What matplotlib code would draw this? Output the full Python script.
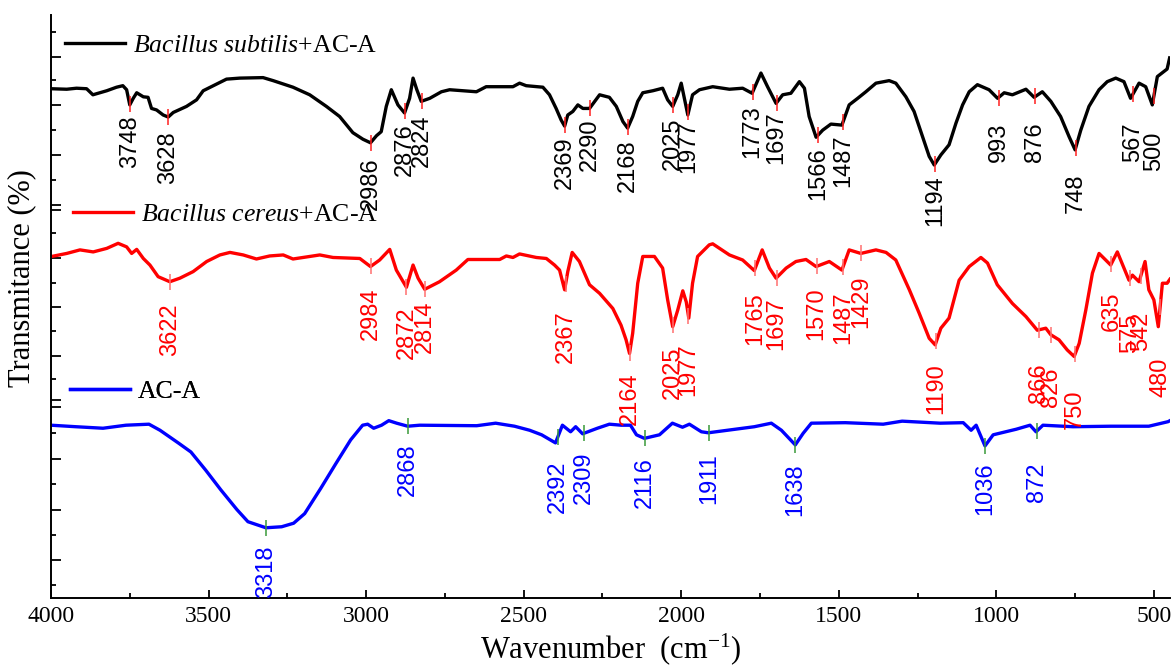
import numpy as np
import matplotlib
matplotlib.use("Agg")
import matplotlib.pyplot as plt
from matplotlib.ticker import MultipleLocator, FixedLocator

plt.rcParams['font.family'] = ['Liberation Serif', 'DejaVu Serif']
plt.rcParams['mathtext.fontset'] = 'custom'
plt.rcParams['mathtext.rm'] = 'Liberation Serif'
plt.rcParams['mathtext.it'] = 'Liberation Serif:italic'

# --- spectra (wavenumber cm-1, transmittance offset units) ---
black_wn = [4000, 3950, 3919, 3887, 3867, 3845, 3823, 3792, 3772, 3760, 3750, 3739, 3728,
            3707, 3692, 3681, 3665, 3644, 3628, 3612, 3570, 3538, 3517, 3485, 3443, 3401,
            3327, 3295, 3232, 3179, 3126, 3084, 3042, 3010, 2986, 2967, 2952, 2936, 2920,
            2899, 2878, 2862, 2851, 2839, 2825, 2798, 2761, 2735, 2650, 2619, 2534, 2513,
            2492, 2439, 2418, 2397, 2381, 2370, 2360, 2344, 2328, 2312, 2291, 2259, 2228,
            2206, 2185, 2170, 2154, 2138, 2122, 2090, 2059, 2043, 2027, 2011, 2000, 1990,
            1979, 1964, 1942, 1900, 1847, 1805, 1775, 1747, 1726, 1699, 1678, 1652, 1625,
            1609, 1594, 1572, 1551, 1525, 1490, 1467, 1440, 1414, 1382, 1340, 1319, 1287,
            1261, 1234, 1213, 1197, 1176, 1150, 1128, 1107, 1086, 1060, 1023, 996, 975,
            949, 906, 880, 854, 827, 796, 769, 750, 732, 706, 674, 648, 621, 595, 574,
            547, 526, 505, 489, 468, 458, 450]
black_t = [93.3, 93.2, 93.4, 93.3, 92.1, 92.5, 92.9, 93.6, 93.9, 93.1, 90.1, 91.4, 92.5,
           91.7, 91.6, 89.4, 89.1, 88.1, 87.7, 88.6, 89.8, 91.1, 92.9, 93.9, 95.2, 95.4,
           95.5, 94.9, 93.6, 92.1, 89.8, 87.8, 84.6, 83.3, 82.6, 84.0, 84.8, 89.8, 93.1,
           90.1, 88.5, 91.4, 95.4, 93.1, 90.8, 91.4, 92.7, 93.1, 92.7, 93.7, 93.7, 94.4,
           93.9, 93.6, 92.1, 89.4, 87.1, 85.9, 88.1, 88.8, 90.1, 89.4, 89.4, 92.1, 91.6,
           89.8, 86.8, 85.5, 87.8, 90.8, 92.5, 92.9, 93.4, 91.1, 89.8, 92.1, 94.4, 91.4,
           88.1, 92.1, 93.1, 93.7, 93.2, 93.4, 92.4, 96.4, 93.7, 90.4, 92.1, 92.4, 94.7,
           93.4, 87.8, 83.7, 85.1, 86.3, 86.1, 90.1, 91.4, 92.7, 94.4, 94.9, 94.4, 91.7,
           88.8, 83.8, 79.9, 78.2, 80.2, 82.2, 86.5, 90.1, 92.7, 94.1, 93.1, 91.4, 92.5,
           92.1, 93.2, 91.6, 92.7, 90.8, 87.8, 83.8, 81.2, 85.1, 89.8, 93.1, 94.7, 95.4,
           94.7, 91.4, 94.4, 93.7, 90.1, 95.7, 96.7, 97.2, 99.4]

red_wn = [3998, 3950, 3908, 3866, 3823, 3787, 3760, 3744, 3728, 3707, 3686, 3660, 3623,
          3591, 3549, 3506, 3464, 3432, 3390, 3348, 3306, 3263, 3232, 3147, 3105, 3020,
          2986, 2957, 2925, 2904, 2872, 2851, 2835, 2814, 2767, 2714, 2677, 2640, 2576,
          2555, 2534, 2513, 2460, 2428, 2402, 2386, 2370, 2360, 2346, 2323, 2291, 2259,
          2217, 2191, 2175, 2164, 2154, 2138, 2122, 2101, 2085, 2059, 2043, 2027, 2011,
          1995, 1984, 1976, 1964, 1948, 1911, 1900, 1847, 1805, 1768, 1743, 1720, 1699,
          1667, 1636, 1604, 1572, 1530, 1490, 1467, 1430, 1382, 1350, 1319, 1276, 1245,
          1213, 1194, 1176, 1150, 1118, 1086, 1049, 1028, 997, 949, 906, 870, 843, 827,
          801, 775, 753, 737, 716, 695, 674, 653, 637, 616, 579, 568, 547, 528, 516, 500,
          486, 473, 458, 449]
red_t = [60.1, 60.7, 61.4, 61.0, 61.7, 62.7, 62.0, 60.7, 61.5, 59.7, 58.4, 56.1, 55.1,
         55.8, 57.1, 59.1, 60.4, 60.9, 60.4, 59.6, 60.2, 60.4, 59.6, 60.4, 59.9, 59.7,
         58.1, 59.4, 61.5, 57.4, 54.0, 58.4, 55.8, 53.6, 55.1, 57.4, 59.5, 59.5, 59.5,
         60.2, 59.9, 60.6, 59.9, 59.7, 58.4, 57.4, 53.5, 57.1, 60.9, 59.1, 54.5, 52.8,
         49.8, 46.5, 43.6, 40.9, 44.9, 54.8, 60.1, 60.1, 60.1, 57.8, 51.5, 46.2, 49.5,
         53.3, 51.1, 47.9, 54.8, 60.1, 62.4, 62.6, 60.4, 59.4, 57.3, 61.4, 57.8, 55.8,
         57.8, 59.1, 59.5, 58.1, 59.1, 57.4, 61.4, 60.7, 61.4, 60.9, 59.4, 53.5, 48.9,
         43.9, 42.6, 45.9, 47.9, 55.4, 58.1, 59.9, 58.8, 54.5, 50.8, 48.2, 45.5, 45.9, 44.6,
         43.6, 41.6, 40.3, 42.9, 49.5, 56.8, 60.7, 59.4, 58.4, 61.0, 55.4, 56.4, 55.1,
         59.1, 53.5, 51.5, 46.2, 54.8, 54.8, 55.6]

blue_wn = [4000, 3921, 3835, 3762, 3689, 3654, 3594, 3556, 3509, 3461, 3410, 3375, 3318,
           3268, 3230, 3195, 3144, 3096, 3049, 3011, 2995, 2976, 2951, 2928, 2903, 2868,
           2830, 2649, 2589, 2529, 2481, 2443, 2399, 2377, 2351, 2335, 2313, 2266, 2228,
           2190, 2161, 2142, 2117, 2069, 2028, 1996, 1974, 1936, 1914, 1768, 1714, 1682,
           1638, 1613, 1587, 1479, 1359, 1299, 1178, 1105, 1080, 1064, 1036, 1010, 937,
           893, 874, 852, 757, 636, 516, 455, 449]
blue_t = [26.7, 26.4, 26.1, 26.7, 26.9, 25.7, 23.1, 21.4, 17.8, 13.9, 10.0, 7.6, 6.4,
          6.6, 7.3, 9.2, 14.2, 19.1, 23.8, 26.7, 26.9, 26.1, 26.7, 27.6, 27.1, 26.5,
          26.7, 26.6, 27.1, 26.5, 25.7, 24.8, 23.2, 26.7, 25.4, 26.4, 25.0, 26.1, 26.9,
          26.7, 26.7, 24.8, 24.1, 24.8, 27.1, 26.3, 26.9, 25.4, 25.2, 26.4, 27.1, 25.7,
          22.8, 25.1, 27.1, 27.2, 26.9, 27.5, 27.1, 27.2, 25.7, 26.7, 22.6, 24.8, 25.9,
          26.7, 25.4, 26.7, 26.4, 26.5, 26.5, 27.4, 27.6]

# --- peak labels and where the label text starts (top of rotated text) ---
black_peaks = [3748, 3628, 2986, 2876, 2824, 2369, 2290, 2168, 2025, 1977,
               1773, 1697, 1566, 1487, 1194, 993, 876, 748, 567, 500]
black_label_top = [88.1, 84.8, 79.8, 86.5, 88.1, 83.8, 87.5, 83.2, 87.7, 87.1,
                   90.1, 88.8, 81.8, 84.2, 76.2, 86.5, 86.7, 76.6, 86.7, 84.8]

red_peaks = [3622, 2984, 2872, 2814, 2367, 2164, 2025, 1977, 1765, 1697, 1570,
             1487, 1429, 1190, 866, 826, 750, 635, 575, 542, 480]
red_label_top = [50.9, 53.9, 50.3, 51.3, 49.5, 37.2, 42.2, 43.0, 53.1, 52.1, 53.9,
                 53.1, 56.4, 39.0, 39.0, 38.2, 33.7, 53.1, 48.9, 49.1, 40.0]

blue_peaks = [3318, 2868, 2392, 2309, 2116, 1911, 1638, 1036, 872]
blue_label_top = [2.8, 23.2, 19.8, 21.4, 20.4, 21.2, 19.2, 19.4, 19.4]

names = [r'$\mathit{Bacillus\ subtilis}$+AC-A',
         r'$\mathit{Bacillus\ cereus}$+AC-A',
         'AC-A']

fig = plt.figure(figsize=(11.75, 6.68), dpi=100)
ax = fig.add_axes([0.0434, 0.1048, 0.9523, 0.8728])


def draw(wn, t, color, peaks, label_top, mark_color):
    line, = ax.plot(wn, t, color=color, lw=2.4, solid_joinstyle='round', zorder=2)
    wn = np.asarray(wn, float)
    t = np.asarray(t, float)
    order = np.argsort(wn)
    on_curve = np.interp(peaks, wn[order], t[order])
    ax.plot(peaks, on_curve, ls='none', marker='|', ms=11, mew=1.3,
            color=mark_color, alpha=0.85, zorder=3)
    for p, ly in zip(peaks, label_top):
        ax.text(p, ly, str(p), rotation=90, ha='center', va='top', color=color,
                fontsize=17, family='Liberation Sans')
    return line


h_black = draw(black_wn, black_t, 'black', black_peaks, black_label_top, '#ff2020')
h_red = draw(red_wn, red_t, '#ff0000', red_peaks, red_label_top, '#ff7070')
h_blue = draw(blue_wn, blue_t, '#0000ff', blue_peaks, blue_label_top, '#3a9a3a')

# one small legend per curve, next to it
for h, name, pos in [(h_black, names[0], (0.0125, 0.947)),
                     (h_red, names[1], (0.0197, 0.657)),
                     (h_blue, names[2], (0.0170, 0.355))]:
    leg = ax.legend([h], [name], loc='center left', bbox_to_anchor=pos,
                    frameon=False, fontsize=18.5, handlelength=2.35,
                    handletextpad=0.28, borderpad=0, borderaxespad=0)
    ax.add_artist(leg)

ax.set_xlim(4000, 449)
ax.set_ylim(-7.5, 107.9)
ax.xaxis.set_major_locator(MultipleLocator(500))
ax.xaxis.set_minor_locator(MultipleLocator(250))
# stacked-panel style ticks on the left (three layers meet near 70 and 31)
ax.yaxis.set_major_locator(FixedLocator([0, 10, 20, 30.3, 31.7, 40.4, 50.1, 59.8,
                                         69.3, 70.3, 80.2, 90.1, 99.6]))
ax.yaxis.set_minor_locator(FixedLocator([-5, 5, 15, 25.1, 35.8, 45.3, 54.9, 64.8,
                                         75.2, 85.1, 95, 104.6]))

ax.tick_params(axis='both', which='both', direction='in', width=1.3)
ax.tick_params(axis='x', which='major', length=6, labelsize=17, pad=6)
ax.tick_params(axis='x', which='minor', length=3.5)
ax.tick_params(axis='y', which='major', length=7, labelleft=False)
ax.tick_params(axis='y', which='minor', length=3.5)

for side in ['top', 'right']:
    ax.spines[side].set_visible(False)
for side in ['left', 'bottom']:
    ax.spines[side].set_linewidth(1.4)

ax.set_xlabel(r'Wavenumber  (cm$^{-1}$)', fontsize=22, labelpad=3)
ax.set_ylabel('Transmitance (%)', fontsize=22)
ax.yaxis.set_label_coords(-0.0134, 0.548)

fig.savefig('out.png', dpi=100)
